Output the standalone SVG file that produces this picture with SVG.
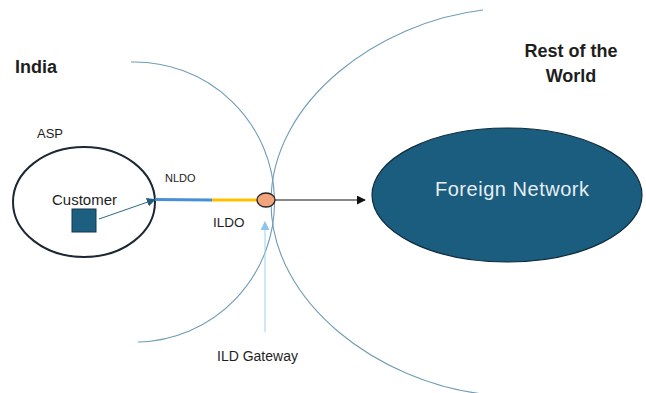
<svg xmlns="http://www.w3.org/2000/svg" width="646" height="393" viewBox="0 0 646 393">
<style>
.t{font-family:"Liberation Sans",Arial,sans-serif;fill:#1e1e1e}
.b{font-weight:bold}
.arc{fill:none;stroke:#6f9cb6;stroke-width:1.1}
</style>
<defs>
<marker id="mBlack" viewBox="0 0 10 10" refX="9" refY="5" markerWidth="9" markerHeight="9" markerUnits="userSpaceOnUse" orient="auto"><path d="M0,0 L10,5 L0,10 z" fill="#111"/></marker>
<marker id="mTeal" viewBox="0 0 10 10" refX="9" refY="5" markerWidth="9" markerHeight="9" markerUnits="userSpaceOnUse" orient="auto"><path d="M0,0 L10,5 L0,10 z" fill="#1f5c7a"/></marker>
<marker id="mLight" viewBox="0 0 10 10" refX="9" refY="5" markerWidth="10" markerHeight="9" markerUnits="userSpaceOnUse" orient="auto"><path d="M0,0 L10,5 L0,10 z" fill="#8cc4ea"/></marker>
</defs>
<rect width="646" height="393" fill="#ffffff"/>
<g id="boundaries">
<path class="arc" d="M131,62 A140,140 0 0 1 138,342"/>
<path class="arc" d="M483,10 C380,22 271,100 271,202 C271,304 380,382 483,394"/>
</g>
<g id="region-labels">
<text class="t b" x="15" y="73" font-size="18">India</text>
<text class="t b" x="571" y="57" font-size="18" text-anchor="middle">Rest of the</text>
<text class="t b" x="571" y="82" font-size="18" text-anchor="middle">World</text>
</g>
<g id="asp">
<ellipse cx="84" cy="202" rx="71" ry="55" fill="none" stroke="#1b2733" stroke-width="2"/>
<text class="t" x="37" y="138" font-size="13">ASP</text>
</g>
<g id="customer">
<rect x="72" y="209" width="24" height="23" fill="#1d5f80" stroke="#12384c" stroke-width="1"/>
<text class="t" x="52" y="205" font-size="15">Customer</text>
</g>
<g id="foreign-network">
<ellipse cx="507" cy="195" rx="135" ry="67" fill="#1b5d7f" stroke="#0f2c3c" stroke-width="1.2"/>
<text x="512" y="196" font-size="20" text-anchor="middle" textLength="154" font-family="Liberation Sans,Arial,sans-serif" fill="#e6eef3">Foreign Network</text>
</g>
<g id="connectors">
<line x1="155" y1="199.5" x2="212" y2="200" stroke="#4a8fd6" stroke-width="3.2"/>
<line x1="212" y1="200" x2="258" y2="200" stroke="#ffc000" stroke-width="3.2"/>
<line x1="275" y1="200" x2="365" y2="200" stroke="#111" stroke-width="1" marker-end="url(#mBlack)"/>
<line x1="99" y1="219" x2="155" y2="199.5" stroke="#2a6a8a" stroke-width="1" marker-end="url(#mTeal)"/>
<line x1="265" y1="332" x2="265" y2="222" stroke="#9fd0f0" stroke-width="1" marker-end="url(#mLight)"/>
</g>
<g id="link-labels">
<text class="t" x="165" y="182" font-size="11">NLDO</text>
<text class="t" x="213" y="227" font-size="13.5">ILDO</text>
</g>
<g id="gateway">
<ellipse cx="266" cy="200" rx="9" ry="7" fill="#f0a57c" stroke="#222" stroke-width="1.3"/>
<text class="t" x="217" y="361" font-size="14">ILD Gateway</text>
</g>
</svg>
